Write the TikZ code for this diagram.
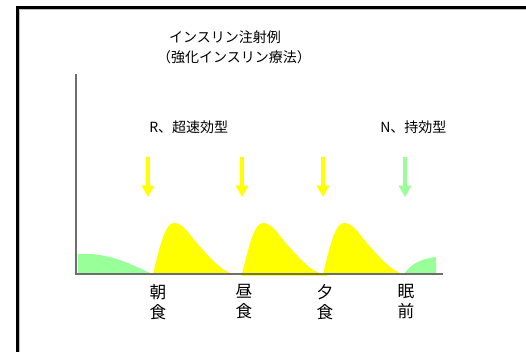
\documentclass[tikz,border=0pt]{standalone}
\usepackage{fontspec}
\setmainfont{Noto Sans CJK JP}
\usetikzlibrary{arrows.meta}
\definecolor{ylw}{RGB}{255,255,0}
\definecolor{grn}{RGB}{153,255,153}
\definecolor{axisgray}{RGB}{110,110,110}
\tikzset{
  lbl/.style={inner sep=0pt, font=\fontsize{10.5pt}{13pt}\selectfont},
  foodlbl/.style={inner sep=0pt, align=center, font=\fontsize{12.5pt}{15pt}\selectfont},
  injarrow/.style={line width=3.2pt, -{Triangle[width=9pt,length=8.5pt]}},
  peak/.style={fill=ylw, draw=none},
  basal/.style={fill=grn, draw=none},
  axisline/.style={draw=axisgray, line width=1pt}
}
\newcommand{\peakshape}[1]{%
  \fill[peak, xshift=#1*0.75pt] (153,274) .. controls (160,246) and (165,223) .. (174,223)
    .. controls (182,223) and (188,232) .. (195,241)
    .. controls (210,258) and (222,272) .. (234,274) -- cycle;}
\begin{document}
\begin{tikzpicture}[x=0.75pt,y=-0.75pt]
\useasboundingbox (0,0) rectangle (526,352);
\fill[white] (0,0) rectangle (526,352);
% frame
\draw[black, line width=2.3pt] (17.5,352) -- (17.5,7.5) -- (526,7.5);
\draw[gray!50, line width=0.6pt] (19.8,352) -- (19.8,9.8) -- (526,9.8);
% titles
\node[lbl] (title1) at (225,37) {インスリン注射例};
\node[lbl] (title2) at (234,57) {（強化インスリン療法）};
\node[lbl, anchor=west] (rlbl) at (149,127) {R、超速効型};
\node[lbl, anchor=west] (nlbl) at (380,127) {N、持効型};
% basal curves
\fill[basal] (78,274) -- (78,254) .. controls (100,253) and (118,257) .. (152,274) -- cycle;
\fill[basal] (404,274) .. controls (411,264) and (420,259) .. (436,257) -- (436,274) -- cycle;
% bolus peaks
\peakshape{0}
\peakshape{89}
\peakshape{170}
\fill[ylw] (242,274) rectangle (327,276);
% axes
\coordinate (ytop) at (76,74);
\coordinate (orig) at (76,274);
\coordinate (xend) at (443,274);
\draw[axisline] (ytop) -- (orig) -- (xend);
% injection arrows
\foreach \n/\x/\c in {a/148/ylw, b/242/ylw, c/323/ylw, d/405/grn}{
  \coordinate (s\n) at (\x,157);
  \coordinate (e\n) at (\x,197);
  \draw[injarrow, draw=\c, fill=\c] (s\n) -- (e\n);
}
% meal labels
\node[foodlbl] (m1) at (158,302) {朝\\食};
\node[foodlbl] (m2) at (244,302) {昼\\食};
\node[foodlbl] (m3) at (325,302) {夕\\食};
\node[foodlbl] (m4) at (406,302) {眠\\前};
\end{tikzpicture}
\end{document}
